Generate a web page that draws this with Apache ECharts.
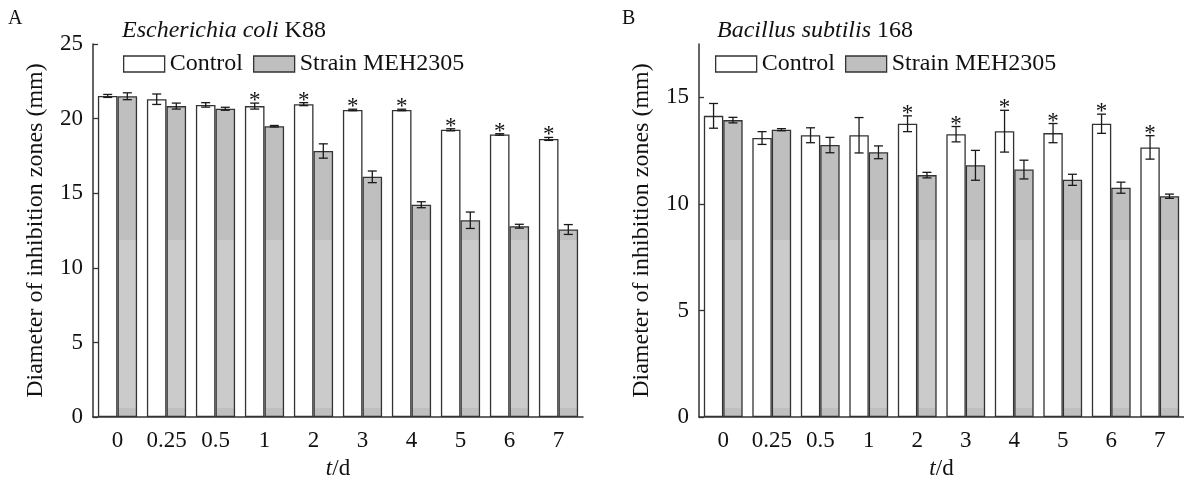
<!DOCTYPE html>
<html>
<head>
<meta charset="utf-8">
<script src="https://cdn.jsdelivr.net/npm/echarts@6/dist/echarts.min.js"></script>
<style>
  html, body { margin: 0; padding: 0; background: #fff; }
  #main { width: 1184px; height: 485px; }
</style>
</head>
<body>
<div id="main"></div>
<script>
// 天数 (t/d)
const days = ["0", "0.25", "0.5", "1", "2", "3", "4", "5", "6", "7"];

// A: Escherichia coli K88
const ecoliControl = [21.52, 21.3, 20.92, 20.84, 20.97, 20.58, 20.58, 19.25, 18.94, 18.64];
const ecoliControlSd = [0.1, 0.35, 0.15, 0.2, 0.1, 0.05, 0.05, 0.07, 0.05, 0.1];
const ecoliStrain = [21.5, 20.84, 20.66, 19.49, 17.83, 16.1, 14.23, 13.19, 12.79, 12.57];
const ecoliStrainSd = [0.23, 0.2, 0.1, 0.05, 0.48, 0.39, 0.2, 0.55, 0.13, 0.33];
const ecoliStars = [0, 0, 0, 1, 1, 1, 1, 1, 1, 1];

// B: Bacillus subtilis 168
const bacControl = [14.13, 13.09, 13.22, 13.22, 13.76, 13.27, 13.41, 13.32, 13.76, 12.65];
const bacControlSd = [0.58, 0.3, 0.35, 0.83, 0.37, 0.36, 0.98, 0.45, 0.45, 0.55];
const bacStrain = [13.93, 13.48, 12.76, 12.42, 11.35, 11.81, 11.61, 11.13, 10.76, 10.36];
const bacStrainSd = [0.13, 0.05, 0.36, 0.3, 0.13, 0.7, 0.44, 0.26, 0.26, 0.1];
const bacStars = [0, 0, 0, 0, 1, 1, 1, 1, 1, 1];

const FONT = '"Liberation Serif", "Times New Roman", serif';
const DARK = "#333";

// 灰色柱子中间有一段颜色较浅（全局坐标渐变）
const greyFill = {
  type: "linear", x: 0, y: 0, x2: 0, y2: 485, global: true,
  colorStops: [
    { offset: 0, color: "#bfbfbf" },
    { offset: 0.494, color: "#bfbfbf" },
    { offset: 0.495, color: "#cbcbcb" },
    { offset: 0.841, color: "#cbcbcb" },
    { offset: 0.842, color: "#bfbfbf" },
    { offset: 1, color: "#bfbfbf" },
  ],
};

function toRows(means, sds, stars) {
  return means.map((m, i) => [i, m, sds[i], stars ? stars[i] : 0]);
}

// 误差线和星号
function errorBars(offset) {
  return function (params, api) {
    const i = api.value(0);
    const m = api.value(1);
    const sd = api.value(2);
    const star = api.value(3);
    const band = api.size([1, 0])[0];
    const x = api.coord([i, m])[0] + offset * band;
    const top = api.coord([i, m + sd])[1];
    const bot = api.coord([i, m - sd])[1];
    const cap = 4.5;
    const style = { stroke: "#1a1a1a", lineWidth: 1.3 };
    const children = [
      { type: "line", shape: { x1: x, y1: top, x2: x, y2: bot }, style },
      { type: "line", shape: { x1: x - cap, y1: top, x2: x + cap, y2: top }, style },
      { type: "line", shape: { x1: x - cap, y1: bot, x2: x + cap, y2: bot }, style },
    ];
    if (star) {
      children.push({
        type: "text", x: x, y: top - 2,
        style: { text: "*", fill: "#111", font: "23px " + FONT, textAlign: "center", textVerticalAlign: "middle" },
      });
    }
    return { type: "group", children };
  };
}

function barSeries(name, data, idx, color) {
  return {
    name: name, type: "bar", xAxisIndex: idx, yAxisIndex: idx,
    data: data, barGap: "0%", barCategoryGap: "20%",
    itemStyle: { color: color, borderColor: DARK, borderWidth: 1.3 },
  };
}

function errSeries(rows, idx, offset) {
  return {
    type: "custom", xAxisIndex: idx, yAxisIndex: idx, z: 5,
    renderItem: errorBars(offset), encode: { x: 0, y: 1 }, data: rows,
  };
}

function xAxisFor(idx) {
  return {
    type: "category", gridIndex: idx, data: days,
    axisLine: { lineStyle: { color: DARK, width: 1.5 } },
    axisTick: { show: false },
    axisLabel: { interval: 0, margin: 12, color: "#111", fontFamily: FONT, fontSize: 23 },
    name: "{i|t}/d", nameLocation: "middle", nameGap: 36,
    nameTextStyle: {
      color: "#111", fontFamily: FONT, fontSize: 23,
      rich: { i: { fontStyle: "italic", fontFamily: FONT, fontSize: 23, color: "#111" } },
    },
  };
}

function yAxisFor(idx, max, ticks) {
  return {
    type: "value", gridIndex: idx, min: 0, max: max, interval: 5,
    axisLine: { show: true, lineStyle: { color: DARK, width: 1.5 } },
    axisTick: { show: true, inside: true, length: 5, lineStyle: { color: DARK, width: 1.3 }, customValues: ticks },
    axisLabel: { margin: 10, color: "#111", fontFamily: FONT, fontSize: 23, customValues: ticks },
    splitLine: { show: false },
    name: "Diameter of inhibition zones (mm)", nameLocation: "middle", nameGap: 45,
    nameTextStyle: { color: "#111", fontFamily: FONT, fontSize: 24 },
  };
}

function legendAt(left) {
  return {
    data: ["Control", "Strain MEH2305"], left: left, top: 52, icon: "rect",
    itemWidth: 41, itemHeight: 16, itemGap: 10, selectedMode: false, padding: 0,
    itemStyle: { borderColor: DARK, borderWidth: 1.3 },
    textStyle: { color: "#111", fontFamily: FONT, fontSize: 24 },
  };
}

function titleAt(left, italic, rest) {
  return {
    text: "{i|" + italic + "} " + rest, left: left, top: 19, padding: 0,
    textStyle: {
      color: "#111", fontFamily: FONT, fontSize: 24, fontWeight: "normal",
      rich: { i: { fontStyle: "italic", fontFamily: FONT, fontSize: 24, color: "#111" } },
    },
  };
}

const myChart = echarts.init(document.getElementById("main"));
const option = {
  animation: false,
  backgroundColor: "#fff",
  title: [
    { text: "A", left: 8, top: 9, padding: 0, textStyle: { color: "#111", fontFamily: FONT, fontSize: 20, fontWeight: "normal" } },
    { text: "B", left: 622, top: 9, padding: 0, textStyle: { color: "#111", fontFamily: FONT, fontSize: 20, fontWeight: "normal" } },
    titleAt(122, "Escherichia coli", "K88"),
    titleAt(717, "Bacillus subtilis", "168"),
  ],
  legend: [legendAt(123), legendAt(715)],
  grid: [
    { left: 93, top: 44, width: 490, height: 377 },
    { left: 699, top: 44, width: 491, height: 377 },
  ],
  xAxis: [xAxisFor(0), xAxisFor(1)],
  yAxis: [yAxisFor(0, 25, [0, 5, 10, 15, 20, 25]), yAxisFor(1, 17.5, [0, 5, 10, 15])],
  series: [
    barSeries("Control", ecoliControl, 0, "#fff"),
    barSeries("Strain MEH2305", ecoliStrain, 0, greyFill),
    errSeries(toRows(ecoliControl, ecoliControlSd, ecoliStars), 0, -0.2),
    errSeries(toRows(ecoliStrain, ecoliStrainSd), 0, 0.2),
    barSeries("Control", bacControl, 1, "#fff"),
    barSeries("Strain MEH2305", bacStrain, 1, greyFill),
    errSeries(toRows(bacControl, bacControlSd, bacStars), 1, -0.2),
    errSeries(toRows(bacStrain, bacStrainSd), 1, 0.2),
  ],
};
myChart.setOption(option);
</script>
</body>
</html>
